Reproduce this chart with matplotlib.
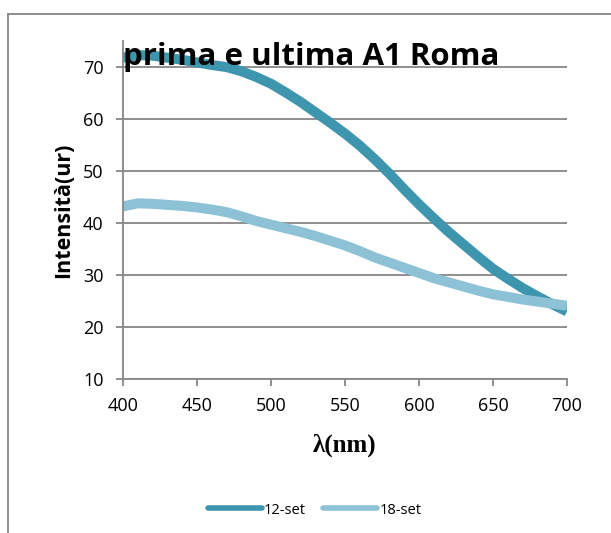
import numpy as np
import matplotlib
matplotlib.use("Agg")
import matplotlib.pyplot as plt
from matplotlib.lines import Line2D

# Wavelengths (nm) and measured intensities for the two dates
wavelength = [400, 410, 420, 430, 440, 450, 460, 470, 480, 490, 500,
              510, 520, 530, 540, 550, 560, 570, 580, 590, 600,
              610, 620, 630, 640, 650, 660, 670, 680, 690, 700]
set_12 = [71.8, 72.3, 72.2, 71.8, 71.4, 70.9, 70.4, 70.0, 69.2, 68.1, 66.8,
          65.1, 63.3, 61.3, 59.3, 57.2, 54.9, 52.3, 49.5, 46.5, 43.6,
          40.9, 38.3, 35.9, 33.5, 31.2, 29.3, 27.5, 25.9, 24.4, 23.0]
set_18 = [43.2, 43.8, 43.7, 43.5, 43.3, 43.0, 42.6, 42.1, 41.3, 40.4, 39.7,
          39.0, 38.3, 37.5, 36.6, 35.7, 34.6, 33.4, 32.4, 31.4, 30.4,
          29.4, 28.6, 27.8, 27.0, 26.3, 25.8, 25.3, 24.9, 24.5, 24.1]
series_names = ["12-set", "18-set"]

x_ticks = [400, 450, 500, 550, 600, 650, 700]
y_ticks = [10, 20, 30, 40, 50, 60, 70]

dark = "#3E95AE"
light = "#8DC1D5"
grey = "#878787"

plt.rcParams['font.family'] = ['Open Sans', 'DejaVu Sans']

fig = plt.figure(figsize=(6.11, 5.33), dpi=100)
ax = fig.add_axes([0.2013, 0.2889, 0.7267, 0.634])

ax.plot(wavelength, set_12, color=dark, lw=7.2, solid_capstyle='butt', label=series_names[0])
ax.plot(wavelength, set_18, color=light, lw=7.2, solid_capstyle='butt', label=series_names[1])

ax.set_xlim(400, 700)
ax.set_ylim(10, 75)
ax.set_xticks(x_ticks)
ax.set_yticks(y_ticks)
ax.yaxis.grid(True, color=grey, lw=1.3)
ax.set_axisbelow(True)

for side in ['top', 'right']:
    ax.spines[side].set_visible(False)
for side in ['left', 'bottom']:
    ax.spines[side].set_color(grey)
    ax.spines[side].set_linewidth(1.3)

ax.tick_params(axis='both', direction='out', length=5, width=1.3, color=grey,
               labelsize=13, labelcolor='black')
ax.tick_params(axis='y', pad=9)
ax.tick_params(axis='x', pad=8)

ax.set_ylabel("Intensità(ur)", fontsize=15.5, fontweight='bold')
ax.yaxis.set_label_coords(-0.11, 0.5)
ax.set_xlabel("λ(nm)", fontsize=18, fontweight='bold', family='Liberation Serif')
ax.xaxis.set_label_coords(0.5, -0.16)

# title sits on top of the plot area, over the curves
fig.text(0.202, 0.878, "prima e ultima A1 Roma", fontsize=22.5, fontweight='bold',
         ha='left', va='baseline', zorder=10)

leg = fig.legend(loc='center', bbox_to_anchor=(0.515, 0.043), ncol=2, frameon=False,
                 fontsize=10.5, handlelength=3.7, columnspacing=1.2, handletextpad=0.15)
for h in leg.get_lines():
    h.set_linewidth(4)
    h.set_solid_capstyle('round')

# outer chart frame
fig.add_artist(Line2D([0.0131, 0.0131], [0, 0.974], color=grey, lw=1.3))
fig.add_artist(Line2D([0.0131, 1.0], [0.974, 0.974], color=grey, lw=1.3))

fig.savefig("out.png", dpi=100)
